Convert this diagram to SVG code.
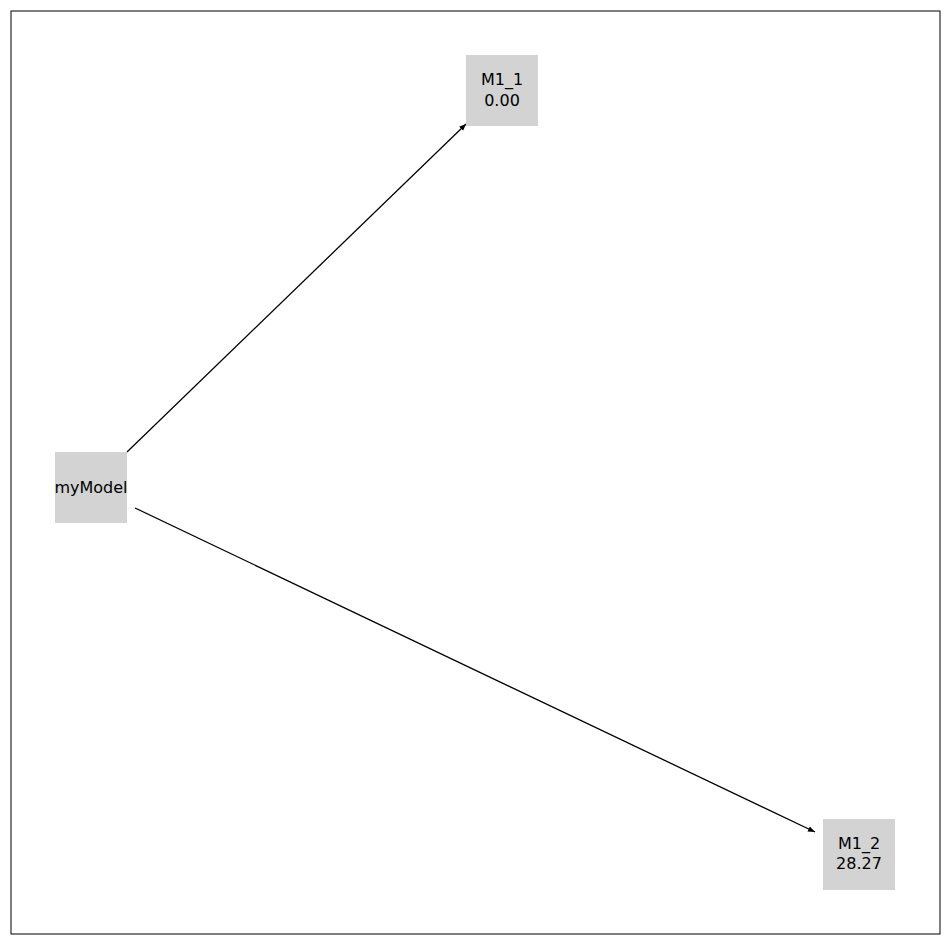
<svg xmlns="http://www.w3.org/2000/svg" width="950" height="944" viewBox="0 0 950 944">
<style>
.n{fill:#d3d3d3}
.t{font-family:"DejaVu Sans",sans-serif;font-size:16px;fill:#000;text-anchor:middle}
.e{stroke:#000;stroke-width:1.3;fill:none}
</style>
<defs><marker id="a" viewBox="0 0 10 10" refX="10" refY="5" markerWidth="7" markerHeight="7" markerUnits="userSpaceOnUse" orient="auto"><path d="M0,1 L10,5 L0,9 z" fill="#000"/></marker></defs>
<rect x="11" y="11" width="929" height="923" fill="#fff" stroke="#000" stroke-width="1"/>
<g id="connectors">
<line class="e" x1="127" y1="452" x2="466" y2="124" marker-end="url(#a)"/>
<line class="e" x1="135" y1="508" x2="815" y2="832" marker-end="url(#a)"/>
</g>
<g id="myModel"><rect class="n" x="55" y="452" width="72" height="71"/><text class="t" x="91" y="493">myModel</text></g>
<g id="M1_1"><rect class="n" x="466" y="55" width="72" height="71"/><text class="t" x="502" y="85">M1_1</text><text class="t" x="502" y="106">0.00</text></g>
<g id="M1_2"><rect class="n" x="823" y="819" width="72" height="71"/><text class="t" x="859" y="849">M1_2</text><text class="t" x="859" y="869">28.27</text></g>
</svg>
